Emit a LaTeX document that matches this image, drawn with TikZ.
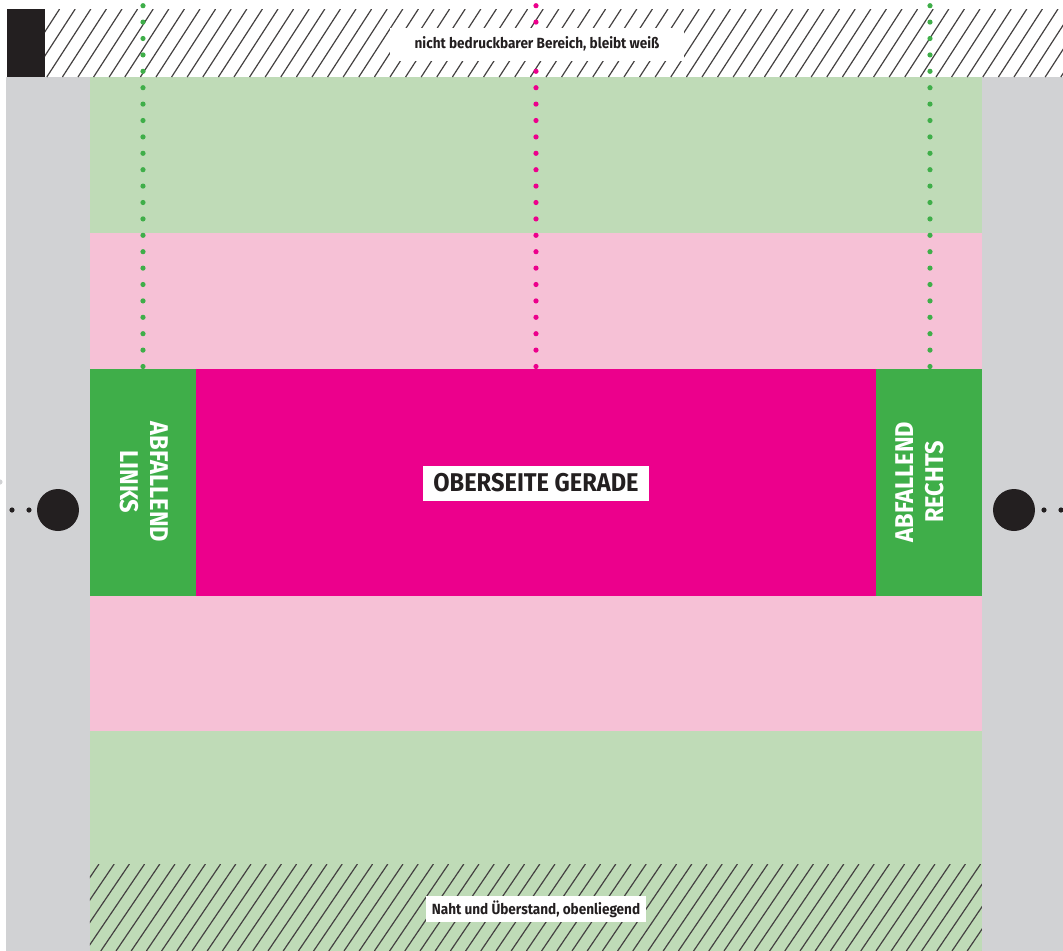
\documentclass[tikz,border=0pt]{standalone}
\usepackage{fontspec}
\setmainfont{Fira Sans}[FakeStretch=0.92]
\usetikzlibrary{positioning}
\definecolor{palegreen}{HTML}{BFDBB7}
\definecolor{palepink}{HTML}{F6C1D6}
\definecolor{magenta}{HTML}{EC008C}
\definecolor{leafgreen}{HTML}{3FAE49}
\definecolor{bordergray}{HTML}{D1D2D4}
\definecolor{inkblack}{HTML}{231F20}
\tikzset{
  hatch/.style={draw=inkblack!85, line width=0.12mm},
  bigtext/.style={font=\fontsize{7.3}{8.5}\selectfont\bfseries, text=inkblack},
  smalltext/.style={font=\fontsize{4.2}{5}\selectfont\bfseries, text=inkblack},
  sidetext/.style={font=\fontsize{7.3}{8.5}\selectfont\bfseries, text=white, align=center},
  whitebox/.style={fill=white, inner sep=0pt}
}

\begin{document}
\begin{tikzpicture}[x=0.1mm,y=-0.1mm]
    \useasboundingbox (0,0) rectangle (1063,951);
    % side strips and top marker
    \fill[bordergray] (6,77) rectangle (90,951);
    \fill[bordergray] (982,77) rectangle (1063,951);
    \fill[inkblack] (7,9) rectangle (45,77);
    % bands
    \fill[palegreen] (90,77) rectangle (982,233);
    \fill[palepink] (90,233) rectangle (982,369);
    \fill[leafgreen] (90,369) rectangle (196,596);
    \fill[magenta] (196,369) rectangle (876,596);
    \fill[leafgreen] (876,369) rectangle (982,596);
    \fill[palepink] (90,596) rectangle (982,731);
    \fill[palegreen] (90,731) rectangle (982,951);
    % hatching top
    \begin{scope}
        \clip (45,9) rectangle (1063,77);
        \foreach \x in {0,15.6,...,1080}
            \draw[hatch] (\x,77) -- ++(44,-68);
    \end{scope}
    % hatching bottom
    \begin{scope}
        \clip (90,864) rectangle (982,951);
        \foreach \x in {40,55.2,...,1000}
            \draw[hatch] (\x,951) -- ++(59,-87);
    \end{scope}
    % fold lines
    \foreach \y in {5.7,22.1,...,368}
    {
        \fill[leafgreen] (143,\y) circle (2.6);
        \fill[leafgreen] (930,\y) circle (2.6);
        \fill[magenta] (536,\y) circle (2.6);
    }
    % register marks
    \fill[inkblack] (58,510) circle (21);
    \fill[inkblack] (12,510) circle (2.6);
    \fill[inkblack] (29,510) circle (2.6);
    \fill[inkblack] (1014,510) circle (21);
    \fill[inkblack] (1044,510) circle (2.6);
    \fill[inkblack] (1061,510) circle (2.6);
    \fill[bordergray] (0,482) circle (2.6);
    % labels
    \node[whitebox, smalltext, minimum width=29.5mm, minimum height=3.3mm] (topnote) at (537,44) {nicht bedruckbarer Bereich, bleibt weiß};
    \node[whitebox, bigtext, minimum width=22.7mm, minimum height=3.5mm] (upper) at (536,483) {OBERSEITE GERADE};
    \node[whitebox, smalltext, minimum width=22mm, minimum height=2.6mm] (seam) at (536,909) {Naht und Überstand, obenliegend};
    \node[sidetext, rotate=-90] (leftfall) at (144,482) {ABFALLEND\\LINKS};
    \node[sidetext, rotate=90] (rightfall) at (920,482) {ABFALLEND\\RECHTS};
\end{tikzpicture}
\end{document}
